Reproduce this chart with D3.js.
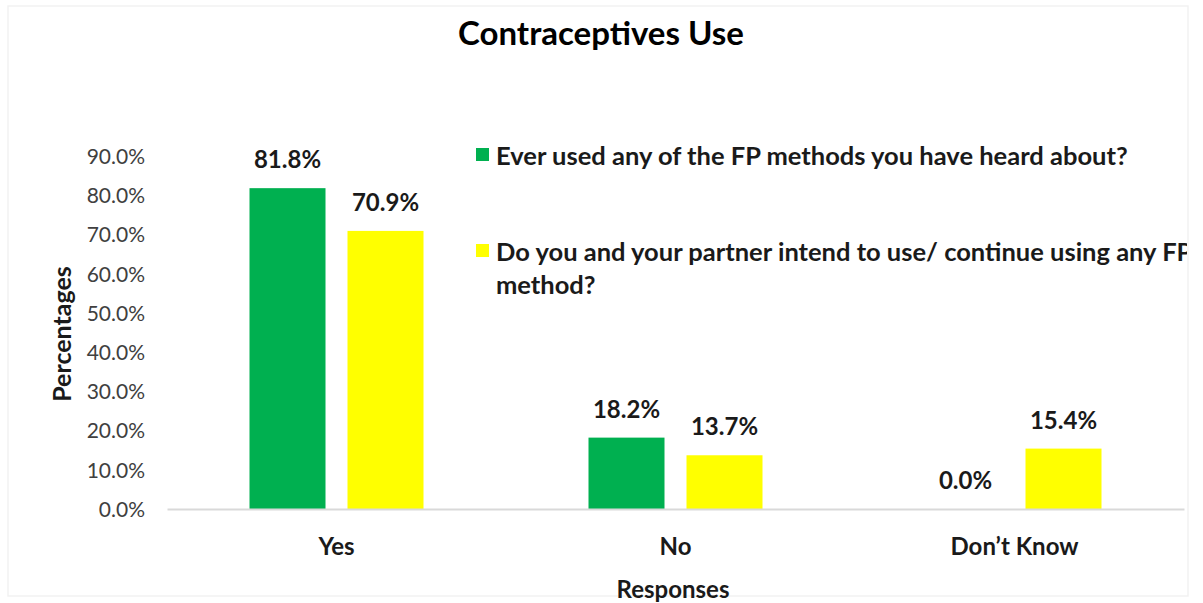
<!DOCTYPE html>
<html>
<head>
<meta charset="utf-8">
<script src="https://cdn.jsdelivr.net/npm/d3@7"></script>
<style>
  html, body { margin: 0; padding: 0; background: #ffffff; }
  svg { display: block; font-family: Lato, "Open Sans", sans-serif; }
</style>
</head>
<body>
<svg id="chart" width="1203" height="603"></svg>
<script>
const categories = ["Yes", "No", "Don\u2019t Know"];
const seriesNames = [
  "Ever used any of the FP methods you have heard about?",
  "Do you and your partner intend to use/ continue using any FP method?"
];
const everUsed = [81.8, 18.2, 0.0];
const intendToUse = [70.9, 13.7, 15.4];
const yTicks = [0, 10, 20, 30, 40, 50, 60, 70, 80, 90];
const colors = ["#00b050", "#ffff00"];

const svg = d3.select("#chart");
const W = 1203, H = 603;

svg.append("rect").attr("x", 0).attr("y", 0).attr("width", W).attr("height", H).attr("fill", "#ffffff");
svg.append("rect").attr("x", 8).attr("y", 6).attr("width", 1180).attr("height", 590)
  .attr("fill", "none").attr("stroke", "#f2f2f2").attr("stroke-width", 1.5);

const plot = { left: 167, right: 1184, top: 156, bottom: 509 };

const y = d3.scaleLinear().domain([0, 90]).range([plot.bottom, plot.top]);
const x0 = d3.scaleBand().domain(categories).range([plot.left, plot.right]);
const groupW = 174;
const x1 = d3.scaleBand().domain([0, 1])
  .range([(x0.bandwidth() - groupW) / 2, (x0.bandwidth() + groupW) / 2])
  .paddingInner(0.2245);

const data = categories.map((c, i) => ({ cat: c, vals: [everUsed[i], intendToUse[i]] }));

// title
svg.append("text").attr("x", 601).attr("y", 45).attr("text-anchor", "middle")
  .attr("font-size", 33).attr("font-weight", 700).attr("fill", "#000")
  .text("Contraceptives Use");

// y axis
const yAxis = d3.axisLeft(y).tickValues(yTicks).tickSize(0).tickPadding(0)
  .tickFormat(d => d.toFixed(1) + "%");
const gy = svg.append("g").attr("transform", `translate(145,0)`).call(yAxis);
gy.select(".domain").remove();
gy.selectAll("text").attr("font-size", 21).attr("fill", "#404040")
  .attr("font-family", "Lato, sans-serif").attr("dy", "0.35em");

// bars
const groups = svg.append("g").selectAll("g").data(data).join("g")
  .attr("transform", d => `translate(${x0(d.cat)},0)`);

groups.selectAll("rect").data(d => d.vals.map((v, k) => ({ v, k }))).join("rect")
  .attr("x", d => x1(d.k))
  .attr("width", x1.bandwidth())
  .attr("y", d => y(d.v))
  .attr("height", d => y(0) - y(d.v))
  .attr("fill", d => colors[d.k]);

groups.selectAll("text.lbl").data(d => d.vals.map((v, k) => ({ v, k }))).join("text")
  .attr("class", "lbl")
  .attr("x", d => x1(d.k) + x1.bandwidth() / 2)
  .attr("y", d => y(d.v) - 20)
  .attr("text-anchor", "middle")
  .attr("font-size", 24).attr("font-weight", 700).attr("fill", "#1a1a1a")
  .text(d => d.v.toFixed(1) + "%");

// x axis
const xAxis = d3.axisBottom(x0).tickSize(0).tickPadding(0);
const gx = svg.append("g").attr("transform", `translate(0,${plot.bottom})`).call(xAxis);
gx.select(".domain").attr("stroke", "#d9d9d9").attr("stroke-width", 2);
gx.selectAll("text").attr("font-size", 24).attr("font-weight", 700).attr("fill", "#1a1a1a")
  .attr("font-family", "Lato, sans-serif").attr("dy", 0).attr("y", 46);

// axis titles
svg.append("text").attr("x", 673).attr("y", 598).attr("text-anchor", "middle")
  .attr("font-size", 24).attr("font-weight", 700).attr("fill", "#1a1a1a").text("Responses");
svg.append("text").attr("transform", "translate(71,334) rotate(-90)").attr("text-anchor", "middle")
  .attr("font-size", 25).attr("font-weight", 700).attr("fill", "#1a1a1a").text("Percentages");

// legend
const defs = svg.append("defs");
defs.append("clipPath").attr("id", "legclip").append("rect")
  .attr("x", 0).attr("y", 0).attr("width", 1187).attr("height", H);
const leg = svg.append("g").attr("clip-path", "url(#legclip)");
const legItems = [
  { lines: [seriesNames[0]], y: 155 },
  { lines: ["Do you and your partner intend to use/ continue using any FP", "method?"], y: 251 }
];
legItems.forEach((it, i) => {
  leg.append("rect").attr("x", 476).attr("y", it.y - 7).attr("width", 13).attr("height", 13)
    .attr("fill", colors[i]);
  const t = leg.append("text").attr("x", 496).attr("y", it.y + 10)
    .attr("font-size", 25.5).attr("font-weight", 700).attr("fill", "#1a1a1a");
  it.lines.forEach((ln, j) => {
    t.append("tspan").attr("x", 496).attr("dy", j === 0 ? 0 : 33).text(ln);
  });
});
</script>
</body>
</html>
